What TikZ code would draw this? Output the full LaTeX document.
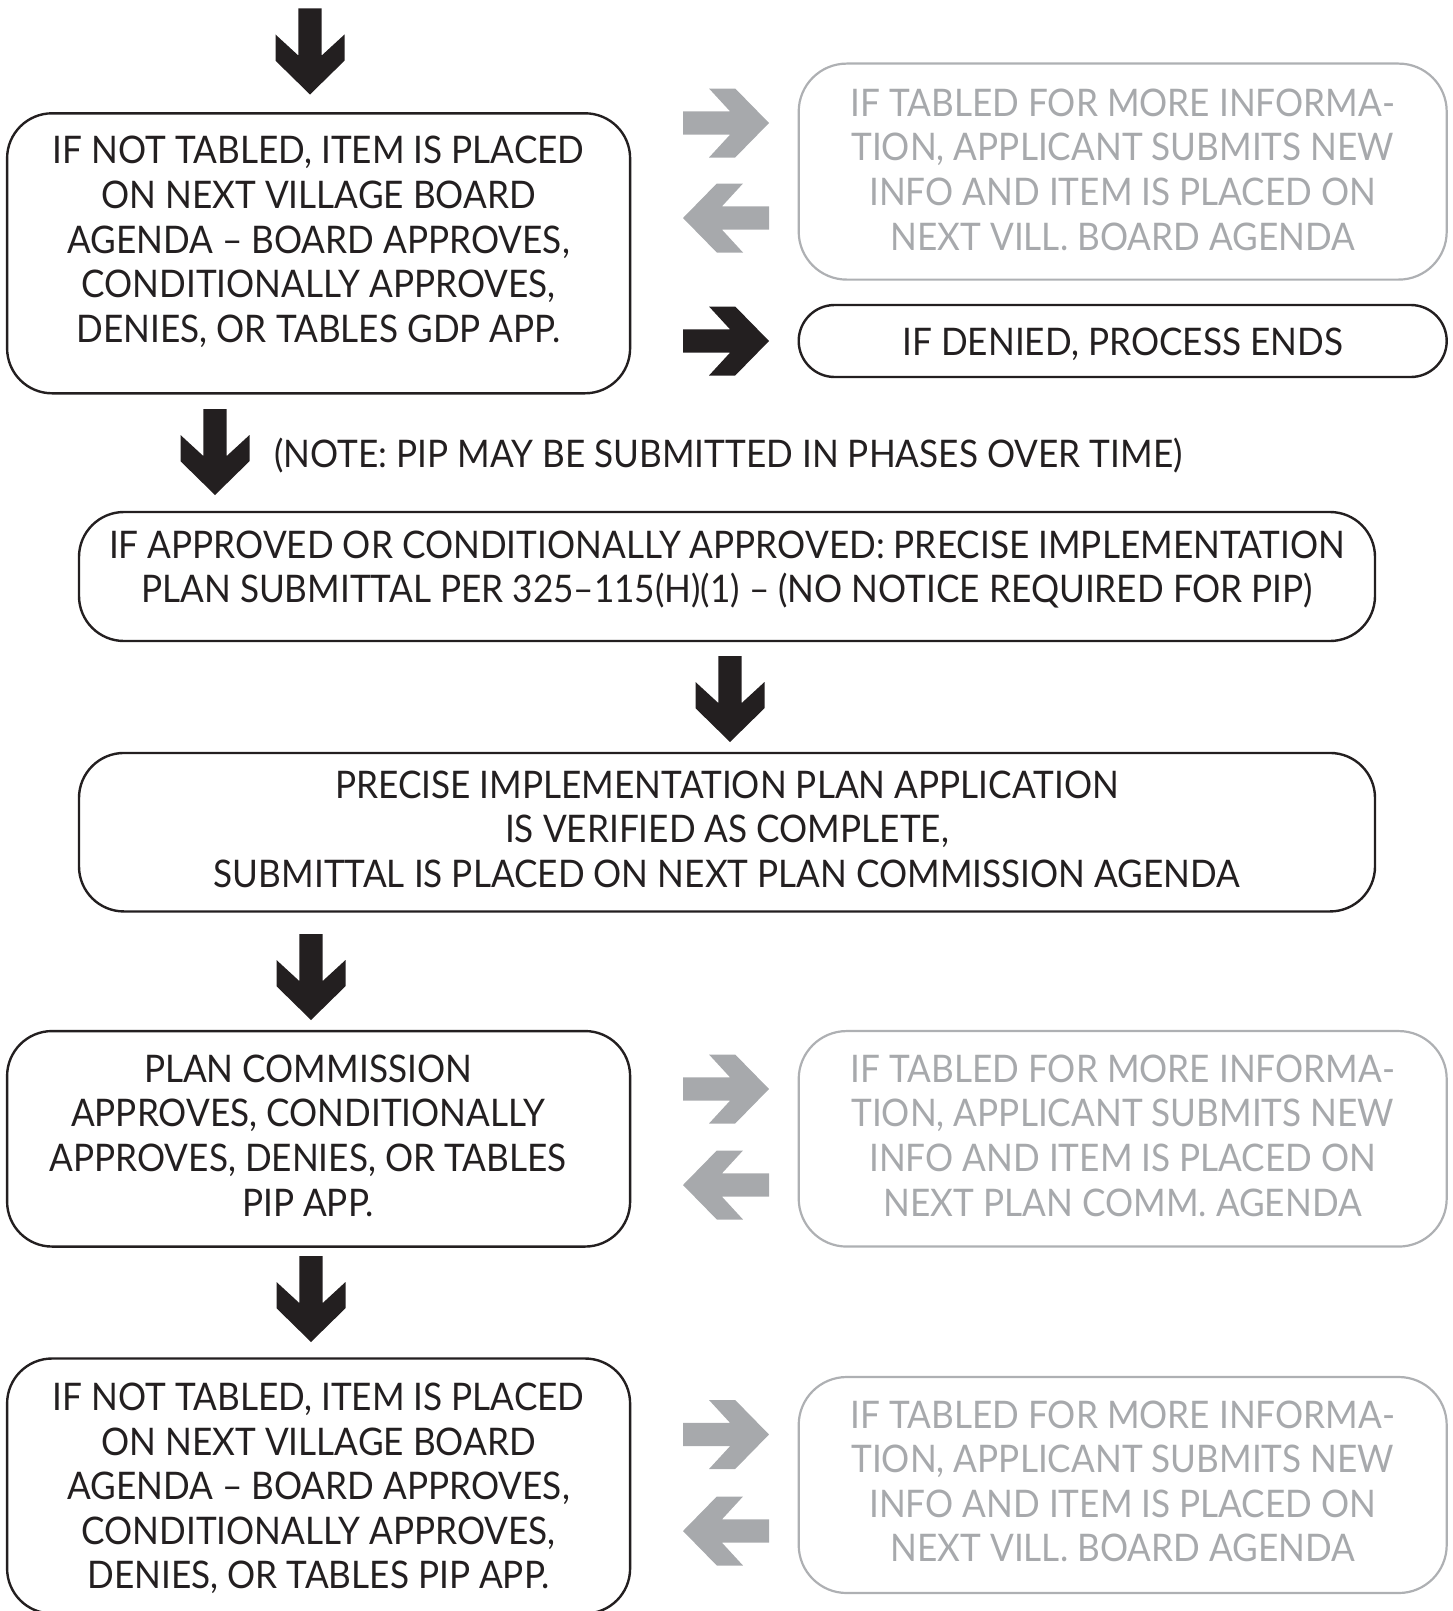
\documentclass[tikz,border=0pt]{standalone}
\usepackage{fontspec}
\setmainfont[FakeStretch=0.925]{Lato}
\definecolor{ink}{HTML}{231F20}
\definecolor{mute}{HTML}{A7A9AC}
\definecolor{muteline}{HTML}{AEB0B3}
\tikzset{
  box/.style={draw=ink, line width=2.4pt, rounded corners=45pt, inner sep=0pt},
  softbox/.style={draw=muteline, line width=2.2pt, rounded corners=48pt, inner sep=0pt},
  txt/.style={text=ink, align=center, inner sep=0pt, text depth=0pt,
    font=\fontsize{38}{44.6}\selectfont},
  softtxt/.style={txt, text=mute},
  pics/blockarrow/.style={code={
    \fill (-86,11.7) -- (-39,11.7) -- (-60,34.5) -- (-33.8,34.5) -- (0,0)
       -- (-33.8,-34.5) -- (-60,-34.5) -- (-39,-11.7) -- (-86,-11.7) -- cycle;
  }},
}
\begin{document}
\begin{tikzpicture}[x=1pt, y=-1pt]
\useasboundingbox (0,0) rectangle (1453,1611);

% ---- General development plan stage ----
\pic[ink, rotate=-90] at (310,94.5) {blockarrow};
\node[box, minimum width=623, minimum height=280] (b1) at (318.6,253.3) {};
\node[txt] (t1) at (318.6,239.4) {IF NOT TABLED, ITEM IS PLACED\\ON NEXT VILLAGE BOARD\\AGENDA – BOARD APPROVES,\\CONDITIONALLY APPROVES,\\DENIES, OR TABLES GDP APP.};

\pic[mute] at (769,123) {blockarrow};
\pic[mute, rotate=180] at (683,218) {blockarrow};
\node[softbox, minimum width=648, minimum height=216] (g1) at (1122.7,171.6) {};
\node[softtxt] (gt1) at (1122.7,169.5) {IF TABLED FOR MORE INFORMA-\\TION, APPLICANT SUBMITS NEW\\INFO AND ITEM IS PLACED ON\\NEXT VILL. BOARD AGENDA};

\pic[ink] at (769,341) {blockarrow};
\node[box, rounded corners=36pt, minimum width=648, minimum height=72] (d1) at (1122.7,341) {};
\node[txt] (dt1) at (1122.7,342) {IF DENIED, PROCESS ENDS};

% ---- Precise implementation plan submittal ----
\pic[ink, rotate=-90] at (215,495) {blockarrow};
\node[txt, anchor=west] (note) at (274,453) {(NOTE: PIP MAY BE SUBMITTED IN PHASES OVER TIME)};

\node[box, minimum width=1296, minimum height=129] (b2) at (727,576.5) {};
\node[txt] (t2) at (727,566.7) {IF APPROVED OR CONDITIONALLY APPROVED: PRECISE IMPLEMENTATION\\PLAN SUBMITTAL PER 325–115(H)(1) – (NO NOTICE REQUIRED FOR PIP)};

\pic[ink, rotate=-90] at (730,742) {blockarrow};
\node[box, minimum width=1296, minimum height=158.5] (b3) at (727,832.2) {};
\node[txt] (t3) at (727,829.2) {PRECISE IMPLEMENTATION PLAN APPLICATION\\IS VERIFIED AS COMPLETE,\\SUBMITTAL IS PLACED ON NEXT PLAN COMMISSION AGENDA};

% ---- Plan commission ----
\pic[ink, rotate=-90] at (311,1020) {blockarrow};
\node[box, minimum width=623, minimum height=215.5] (b4) at (318.6,1138.8) {};
\node[txt] (t4) at (308,1135.5) {PLAN COMMISSION\\APPROVES, CONDITIONALLY\\APPROVES, DENIES, OR TABLES\\PIP APP.};

\pic[mute] at (769,1089) {blockarrow};
\pic[mute, rotate=180] at (683,1185) {blockarrow};
\node[softbox, minimum width=648, minimum height=215.5] (g2) at (1122.7,1138.8) {};
\node[softtxt] (gt2) at (1122.7,1135.5) {IF TABLED FOR MORE INFORMA-\\TION, APPLICANT SUBMITS NEW\\INFO AND ITEM IS PLACED ON\\NEXT PLAN COMM. AGENDA};

% ---- Village board ----
\pic[ink, rotate=-90] at (311,1342) {blockarrow};
\node[box, minimum width=623, minimum height=255] (b5) at (318.6,1486) {};
\node[txt] (t5) at (318.6,1485.9) {IF NOT TABLED, ITEM IS PLACED\\ON NEXT VILLAGE BOARD\\AGENDA – BOARD APPROVES,\\CONDITIONALLY APPROVES,\\DENIES, OR TABLES PIP APP.};

\pic[mute] at (769,1434.5) {blockarrow};
\pic[mute, rotate=180] at (683,1531) {blockarrow};
\node[softbox, minimum width=648, minimum height=216] (g3) at (1122.7,1485) {};
\node[softtxt] (gt3) at (1122.7,1481.3) {IF TABLED FOR MORE INFORMA-\\TION, APPLICANT SUBMITS NEW\\INFO AND ITEM IS PLACED ON\\NEXT VILL. BOARD AGENDA};
\end{tikzpicture}
\end{document}
